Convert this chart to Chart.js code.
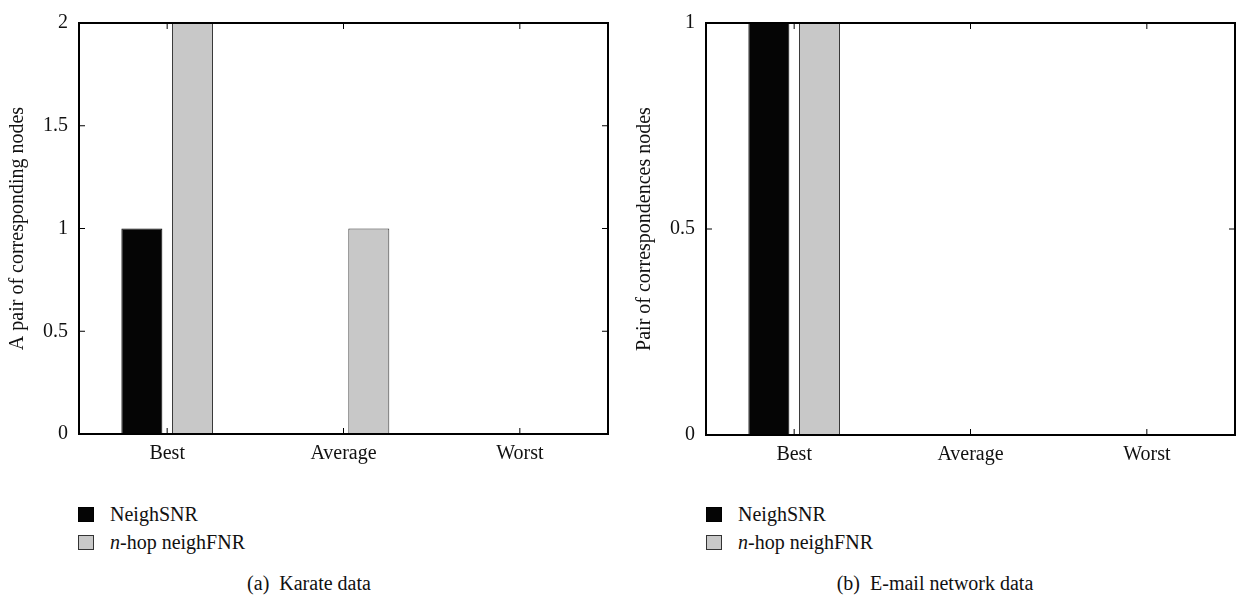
<!DOCTYPE html>
<html>
<head>
<meta charset="utf-8">
<script src="https://cdn.jsdelivr.net/npm/chart.js@4.4.0/dist/chart.umd.min.js"></script>
<style>
  html, body { margin: 0; padding: 0; background: #fff; }
  body { width: 1237px; height: 597px; position: relative; overflow: hidden;
         font-family: 'Times New Roman', 'Liberation Serif', 'DejaVu Serif', serif; color: #111; }
  .wrap { position: absolute; top: 0; height: 470px; }
  .legend { position: absolute; top: 500px; font-size: 20px; }
  .legend .row { height: 28px; display: flex; align-items: center; }
  .legend .sw { width: 16px; height: 15px; box-sizing: border-box; margin-right: 16px; }
  .caption { position: absolute; top: 571px; font-size: 20px; line-height: 24px;
             transform: translateX(-50%); white-space: pre; }
</style>
</head>
<body>
<div class="wrap" style="left:0;width:618px"><canvas id="karate"></canvas></div>
<div class="wrap" style="left:618px;width:619px"><canvas id="email"></canvas></div>
<div class="legend" id="legendA" style="left:78px"></div>
<div class="legend" id="legendB" style="left:706px"></div>
<div class="caption" style="left:309px">(a)  Karate data</div>
<div class="caption" style="left:935px">(b)  E-mail network data</div>

<script>
const categories = ['Best', 'Average', 'Worst'];
const seriesNames = ['NeighSNR', '<i>n</i>-hop neighFNR'];

const karateNeighSNR = [1, 0, 0];
const karateNHop = [2, 1, 0];
const emailNeighSNR = [1, 0, 0];
const emailNHop = [1, 0, 0];

const fills = ['#050505', '#c8c8c8'];
const edges = ['#000', '#333'];

Chart.defaults.font.family = "'Times New Roman', 'Liberation Serif', 'DejaVu Serif', serif";
Chart.defaults.font.size = 20;
Chart.defaults.color = '#111';

// box frame and inward ticks on all four sides
const framePlugin = {
  id: 'frame',
  afterDatasetsDraw(chart) {
    const {ctx, chartArea: a, scales: {x, y}} = chart;
    ctx.save();
    ctx.strokeStyle = '#000';
    ctx.lineWidth = 1;
    ctx.beginPath();
    y.ticks.forEach((t, i) => {
      const py = y.getPixelForTick(i);
      ctx.moveTo(a.left, py); ctx.lineTo(a.left + 6, py);
      ctx.moveTo(a.right, py); ctx.lineTo(a.right - 6, py);
    });
    x.ticks.forEach((t, i) => {
      const px = x.getPixelForTick(i);
      ctx.moveTo(px, a.bottom); ctx.lineTo(px, a.bottom - 6);
      ctx.moveTo(px, a.top); ctx.lineTo(px, a.top + 6);
    });
    ctx.stroke();
    ctx.lineWidth = 2;
    ctx.strokeRect(a.left, a.top, a.right - a.left, a.bottom - a.top);
    ctx.restore();
  }
};

function makeChart(id, snr, hop, yMax, yTitle, box) {
  return new Chart(document.getElementById(id), {
    type: 'bar',
    data: {
      labels: categories,
      datasets: [snr, hop].map((d, i) => ({
        label: seriesNames[i],
        data: d,
        backgroundColor: fills[i],
        borderColor: edges[i],
        borderWidth: 1,
        categoryPercentage: 0.574,
        barPercentage: 0.81
      }))
    },
    options: {
      responsive: true,
      maintainAspectRatio: false,
      animation: false,
      layout: { padding: { left: 0, top: box.top, right: box.right, bottom: 0 } },
      plugins: { legend: { display: false }, tooltip: { enabled: false } },
      scales: {
        x: {
          grid: { display: false, drawTicks: false },
          border: { display: false },
          ticks: { padding: 8 },
          afterFit: s => { s.height = box.xHeight; }
        },
        y: {
          min: 0,
          max: yMax,
          grid: { display: false, drawTicks: false },
          border: { display: false },
          ticks: { stepSize: 0.5, padding: 11, callback: v => String(v) },
          title: { display: true, text: yTitle, padding: { top: box.titlePad, bottom: 0 } },
          afterFit: s => { s.width = box.left; }
        }
      }
    },
    plugins: [framePlugin]
  });
}

makeChart('karate', karateNeighSNR, karateNHop, 2, 'A pair of corresponding nodes',
  { top: 17, right: 10, xHeight: 36, left: 79, titlePad: 6 });
makeChart('email', emailNeighSNR, emailNHop, 1, 'Pair of correspondences nodes',
  { top: 19, right: 2, xHeight: 35, left: 88, titlePad: 15 });

function buildLegend(elId) {
  const el = document.getElementById(elId);
  el.innerHTML = seriesNames.map((n, i) =>
    `<div class="row"><span class="sw" style="background:${fills[i]};border:1px solid ${edges[i]}"></span>${n}</div>`
  ).join('');
}
buildLegend('legendA');
buildLegend('legendB');
</script>
</body>
</html>
